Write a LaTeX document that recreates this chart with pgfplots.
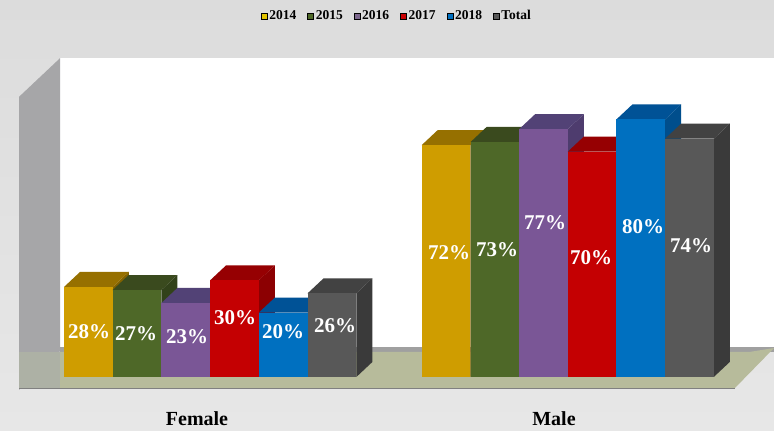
\documentclass[border=0pt]{standalone}
\usepackage{pgfplots}
\pgfplotsset{compat=1.18}
\usepackage{fontspec}
\setmainfont{Liberation Serif}
\definecolor{bgtop}{RGB}{220,220,220}
\definecolor{bgbot}{RGB}{231,231,231}
\definecolor{floorc}{RGB}{183,187,155}
\definecolor{wallc}{RGB}{166,166,168}
\definecolor{wallfloor}{RGB}{173,177,165}
\definecolor{wallline}{RGB}{160,160,160}
\definecolor{ca}{RGB}{207,157,0}\definecolor{cat}{RGB}{150,112,0}\definecolor{cas}{RGB}{130,98,0}
\definecolor{cb}{RGB}{78,104,40}\definecolor{cbt}{RGB}{58,74,30}\definecolor{cbs}{RGB}{50,66,26}
\definecolor{cc}{RGB}{122,86,150}\definecolor{cct}{RGB}{82,66,118}\definecolor{ccs}{RGB}{78,60,110}
\definecolor{cd}{RGB}{196,0,2}\definecolor{cdt}{RGB}{150,0,2}\definecolor{cds}{RGB}{140,0,2}
\definecolor{ce}{RGB}{0,112,192}\definecolor{cet}{RGB}{0,82,150}\definecolor{ces}{RGB}{0,78,140}
\definecolor{cf}{RGB}{88,88,88}\definecolor{cft}{RGB}{66,66,66}\definecolor{cfs}{RGB}{58,58,58}
% x centre, value, front, top, side. Depth: 16 px across, 15 px (4.66 %) up
\newcommand{\threedbar}[5]{%
  \addplot[fill=#5,draw=none,forget plot] coordinates {(#1+24.35,0)(#1+40.35,4.66)(#1+40.35,#2+4.66)(#1+24.35,#2)} --cycle;
  \addplot[fill=#4,draw=none,forget plot] coordinates {(#1-24.35,#2)(#1-8.35,#2+4.66)(#1+40.35,#2+4.66)(#1+24.35,#2)} --cycle;
  \addplot[ybar,bar width=48.7pt,bar shift=0pt,fill=#3,draw=none,forget plot] coordinates {(#1,#2)};
}
\newcommand{\lab}[3]{\node[text=white,font=\bfseries\fontsize{21}{21}\selectfont] at (axis cs:#1,#2) {#3\%};}
\begin{document}
\begin{tikzpicture}
\begin{axis}[
  scale only axis, width=774pt, height=431pt,
  xmin=0, xmax=774, ymin=-16.77, ymax=117.08,
  hide axis,
  legend columns=6,
  legend style={at={(axis cs:397,112.1)},anchor=center,draw=none,fill=none,
    font=\bfseries\fontsize{13.5}{13.5}\selectfont,
    /tikz/every even column/.style={column sep=9pt},
    inner sep=0pt},
  legend image code/.code={\fill[#1] (1pt,-3pt) rectangle (7pt,3pt);},
]
% background
\addplot[top color=bgtop,bottom color=bgbot,draw=none,forget plot] coordinates {(0,-16.77)(774,-16.77)(774,117.08)(0,117.08)} --cycle;
% back wall
\addplot[fill=white,draw=none,forget plot] coordinates {(60,9)(774,9)(774,99)(60,99)} --cycle;
% left wall
\addplot[fill=wallc,draw=none,forget plot] coordinates {(19,-4)(60,8)(60,99)(19,87)} --cycle;
% line behind floor
\addplot[fill=wallline,draw=none,forget plot] coordinates {(60,7.7)(774,7.7)(774,9.2)(60,9.2)} --cycle;
% floor
\addplot[fill=floorc,draw=none,forget plot] coordinates {(60,-3.4)(735,-3.4)(774,9)(750,7.8)(60,7.8)} --cycle;
\addplot[fill=wallfloor,draw=none,forget plot] coordinates {(19,-3.4)(60,-3.4)(60,7.8)(19,7.8)} --cycle;
\addplot[draw=black!50,line width=.7pt,forget plot] coordinates {(19,-3.6)(735,-3.6)};

\threedbar{88.5}{28}{ca}{cat}{cas}
\threedbar{137}{27}{cb}{cbt}{cbs}
\threedbar{185.8}{23}{cc}{cct}{ccs}
\threedbar{234.4}{30}{cd}{cdt}{cds}
\threedbar{283.2}{20}{ce}{cet}{ces}
\threedbar{332}{26}{cf}{cft}{cfs}
\threedbar{446}{72}{ca}{cat}{cas}
\threedbar{495}{73}{cb}{cbt}{cbs}
\threedbar{543.6}{77}{cc}{cct}{ccs}
\threedbar{592.2}{70}{cd}{cdt}{cds}
\threedbar{640.8}{80}{ce}{cet}{ces}
\threedbar{689.4}{74}{cf}{cft}{cfs}

\addlegendimage{fill=ca!60!yellow}\addlegendentry{2014}
\addlegendimage{fill=cb}\addlegendentry{2015}
\addlegendimage{fill=cc!60!gray}\addlegendentry{2016}
\addlegendimage{fill=cd!90!red}\addlegendentry{2017}
\addlegendimage{fill=ce}\addlegendentry{2018}
\addlegendimage{fill=cf}\addlegendentry{Total}

\lab{89}{14}{28}
\lab{136}{13.5}{27}
\lab{187}{12.5}{23}
\lab{235}{18.5}{30}
\lab{283}{14}{20}
\lab{335}{16}{26}
\lab{449}{38.5}{72}
\lab{497}{39.5}{73}
\lab{545}{48}{77}
\lab{591}{37}{70}
\lab{643}{46.8}{80}
\lab{691}{40.7}{74}
\node[font=\bfseries\fontsize{20}{20}\selectfont] at (axis cs:197,-13) {Female};
\node[font=\bfseries\fontsize{20}{20}\selectfont] at (axis cs:554,-13) {Male};
\end{axis}
\end{tikzpicture}
\end{document}
